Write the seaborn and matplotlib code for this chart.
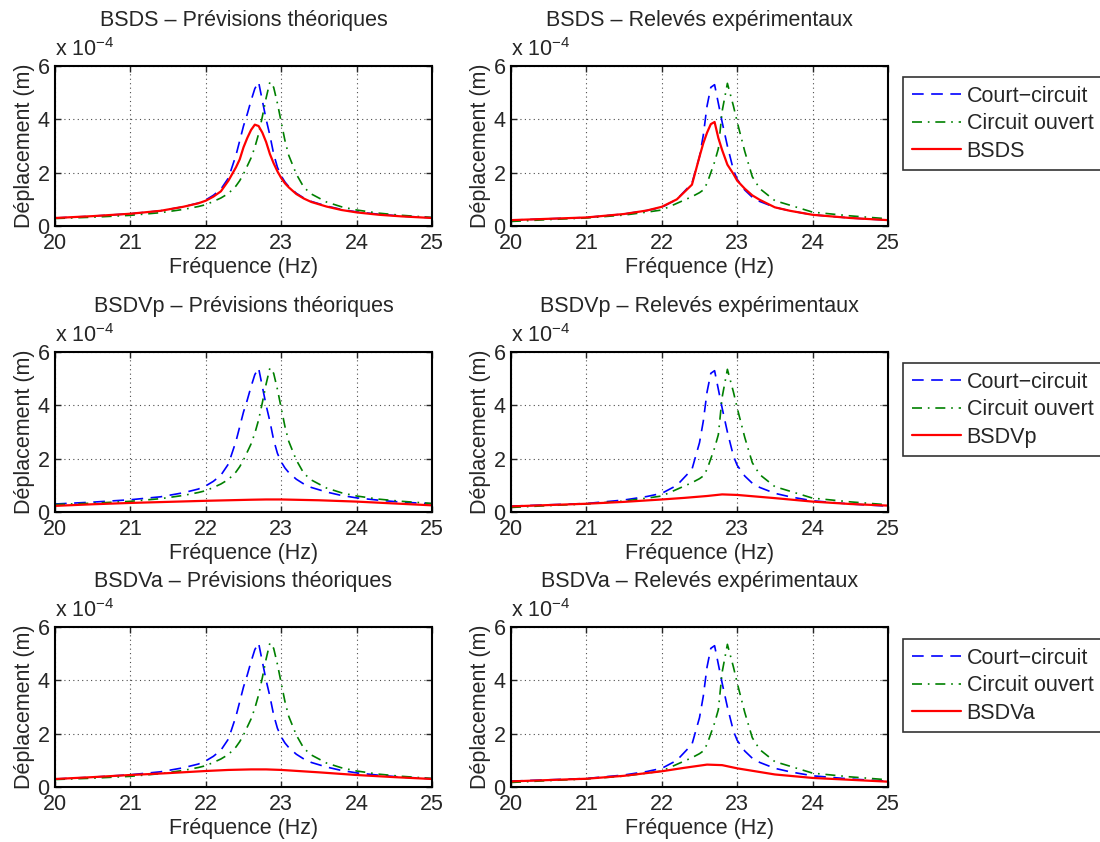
import matplotlib
matplotlib.use("Agg")
import matplotlib.pyplot as plt
import seaborn as sns

# ---- data (displacement in units of 1e-4 m) ----
FREQ_THEO = [20.0, 20.5, 21.0, 21.4, 21.7, 21.9, 22.0, 22.1, 22.2, 22.3, 22.4, 22.45, 22.5, 22.55,
             22.6, 22.65, 22.7, 22.75, 22.8, 22.85, 22.9, 22.95, 23.0, 23.05, 23.1, 23.2, 23.3,
             23.4, 23.6, 23.8, 24.0, 24.3, 24.6, 25.0]
CC_THEO = [0.30, 0.37, 0.46, 0.57, 0.72, 0.86, 0.98, 1.15, 1.38, 1.80, 2.65, 3.20, 3.75, 4.20,
           4.70, 5.15, 5.40, 4.70, 4.00, 3.40, 2.70, 2.20, 1.88, 1.65, 1.48, 1.23, 1.05,
           0.92, 0.75, 0.62, 0.53, 0.44, 0.37, 0.31]
CO_THEO = [0.28, 0.33, 0.40, 0.50, 0.62, 0.73, 0.80, 0.92, 1.05, 1.22, 1.50, 1.70, 1.95, 2.25,
           2.55, 2.95, 3.45, 4.10, 4.80, 5.40, 5.20, 4.60, 3.90, 3.20, 2.65, 1.95, 1.45,
           1.20, 0.90, 0.72, 0.60, 0.48, 0.40, 0.32]
BSDS_THEO = [0.30, 0.37, 0.46, 0.57, 0.72, 0.85, 0.95, 1.10, 1.30, 1.70, 2.20, 2.50, 2.95, 3.30,
             3.60, 3.80, 3.75, 3.50, 3.15, 2.70, 2.35, 2.05, 1.80, 1.60, 1.45, 1.20, 1.03,
             0.90, 0.73, 0.60, 0.51, 0.42, 0.36, 0.30]

FREQ_EXP = [20.0, 20.5, 21.0, 21.5, 21.8, 22.0, 22.2, 22.4, 22.5, 22.55, 22.6, 22.65, 22.7,
            22.75, 22.8, 22.87, 22.95, 23.0, 23.1, 23.2, 23.3, 23.5, 23.7, 24.0, 24.5, 25.0]
CC_EXP = [0.22, 0.27, 0.32, 0.45, 0.58, 0.70, 1.00, 1.60, 2.60, 3.40, 4.50, 5.20, 5.30,
          4.60, 3.90, 3.00, 2.10, 1.75, 1.35, 1.08, 0.92, 0.70, 0.57, 0.42, 0.30, 0.22]
CO_EXP = [0.17, 0.24, 0.30, 0.41, 0.52, 0.60, 0.85, 1.10, 1.25, 1.35, 1.60, 2.00, 2.40,
          2.90, 4.30, 5.35, 4.50, 3.90, 2.80, 1.85, 1.40, 0.95, 0.78, 0.52, 0.38, 0.27]
BSDS_EXP = [0.22, 0.27, 0.32, 0.45, 0.58, 0.72, 1.00, 1.55, 2.60, 3.10, 3.50, 3.82, 3.90,
            3.30, 2.85, 2.30, 1.95, 1.70, 1.40, 1.15, 0.98, 0.70, 0.57, 0.42, 0.30, 0.22]

FREQ_FLAT = [20.0, 20.5, 21.0, 21.5, 22.0, 22.3, 22.6, 22.8, 23.0, 23.5, 24.0, 24.5, 25.0]
BSDVP_THEO = [0.23, 0.29, 0.34, 0.38, 0.42, 0.44, 0.46, 0.47, 0.47, 0.44, 0.39, 0.32, 0.25]
BSDVP_EXP = [0.21, 0.26, 0.31, 0.38, 0.47, 0.53, 0.60, 0.66, 0.64, 0.52, 0.39, 0.30, 0.24]
BSDVA_THEO = [0.30, 0.37, 0.45, 0.52, 0.60, 0.64, 0.66, 0.66, 0.64, 0.55, 0.45, 0.37, 0.30]
BSDVA_EXP = [0.21, 0.26, 0.31, 0.42, 0.59, 0.72, 0.84, 0.82, 0.70, 0.47, 0.34, 0.27, 0.20]

DEVICES = ["BSDS", "BSDVp", "BSDVa"]
DEVICE_THEO = [(FREQ_THEO, BSDS_THEO), (FREQ_FLAT, BSDVP_THEO), (FREQ_FLAT, BSDVA_THEO)]
DEVICE_EXP = [(FREQ_EXP, BSDS_EXP), (FREQ_FLAT, BSDVP_EXP), (FREQ_FLAT, BSDVA_EXP)]
COL_TITLES = ["Prévisions théoriques", "Relevés expérimentaux"]
X_TICKS = [20, 21, 22, 23, 24, 25]
Y_TICKS = [0, 2, 4, 6]

sns.set_style("white")
plt.rcParams["font.family"] = ["Liberation Sans", "DejaVu Sans"]
plt.rcParams["mathtext.fontset"] = "custom"
plt.rcParams["mathtext.rm"] = "Liberation Sans"
plt.rcParams["mathtext.it"] = "Liberation Sans"
FS = 15.5

W, H = 1100, 842
fig = plt.figure(figsize=(11, 8.42), dpi=100)

col_left = [55, 511]
col_width = 377
row_top = [66, 352, 627]
row_height = 160
legend_top = [77, 363, 639]

DASH = (7, 4.5)
DASHDOT = (6, 3.5, 1, 3.5)

for r, dev in enumerate(DEVICES):
    for c in range(2):
        ax = fig.add_axes([col_left[c] / W, 1 - (row_top[r] + row_height) / H,
                           col_width / W, row_height / H])
        if c == 0:
            fc, cc, fco, co = FREQ_THEO, CC_THEO, FREQ_THEO, CO_THEO
            fd, dv = DEVICE_THEO[r]
        else:
            fc, cc, fco, co = FREQ_EXP, CC_EXP, FREQ_EXP, CO_EXP
            fd, dv = DEVICE_EXP[r]
        sns.lineplot(x=fc, y=cc, ax=ax, color="#0000ff", lw=1.2,
                     label="Court\u2212circuit")
        ax.lines[-1].set_dashes(DASH)
        sns.lineplot(x=fco, y=co, ax=ax, color="#008000", lw=1.2,
                     label="Circuit ouvert")
        ax.lines[-1].set_dashes(DASHDOT)
        sns.lineplot(x=fd, y=dv, ax=ax, color="#ff0000", lw=1.6, label=dev)

        ax.set_xlim(20, 25)
        ax.set_ylim(0, 6)
        ax.set_xticks(X_TICKS)
        ax.set_yticks(Y_TICKS)
        ax.tick_params(direction="in", length=4, width=1, labelsize=FS,
                       top=True, right=True, bottom=True, left=True)
        ax.tick_params(axis="x", pad=5)
        ax.tick_params(axis="y", pad=4)
        ax.grid(True, linestyle=(0, (1, 3)), color="black", lw=0.8, alpha=0.7)
        for s in ax.spines.values():
            s.set_color("black")
            s.set_linewidth(1.5)
        ax.set_xlabel("Fréquence (Hz)", fontsize=FS, labelpad=2)
        ax.set_ylabel("Déplacement (m)", fontsize=FS, labelpad=2)
        ax.set_title(f"{dev} \u2013 {COL_TITLES[c]}", fontsize=FS, pad=29)
        ax.text(0, 1.03, r"x 10$^{-4}$", transform=ax.transAxes,
                fontsize=FS, ha="left", va="bottom")

        leg = ax.get_legend()
        if c == 1:
            handles, labels = ax.get_legend_handles_labels()
            handles[0].set_dashes(DASH)
            leg = ax.legend(handles, labels, loc="upper left",
                            bbox_to_anchor=(903 / W, 1 - legend_top[r] / H),
                            bbox_transform=fig.transFigure, fontsize=FS,
                            frameon=True, fancybox=False, edgecolor="black",
                            borderaxespad=0, borderpad=0.4, labelspacing=0.3,
                            handlelength=2.3, handletextpad=0.25)
            leg.get_frame().set_linewidth(1.2)
        elif leg is not None:
            leg.remove()

fig.savefig("out.png", dpi=100)
